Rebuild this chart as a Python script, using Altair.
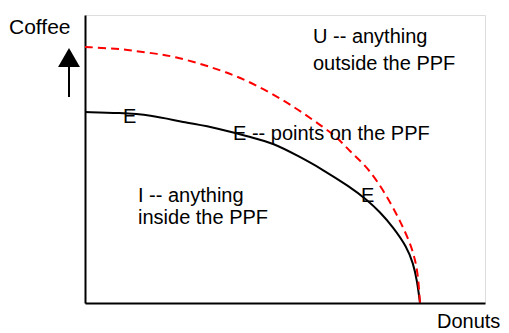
import altair as alt
import pandas as pd

# PPF curves (Donuts on x, Coffee on y), 0-100 units
ppf_x = [0, 8.75, 16.25, 24.5, 33, 41.25, 47, 53.75, 58.75, 66.25, 70.5, 73.75, 77, 80.5, 82, 83, 83.75]
ppf_y = [66.3, 66.0, 65.3, 62.8, 60.8, 57.6, 55.6, 50.7, 46.9, 40.3, 35.8, 31.6, 26.4, 19.4, 13.9, 8.0, 0]

new_x = [0, 8.25, 12.5, 18.25, 22.5, 29.25, 35, 41.75, 49.5, 54.5, 59.5, 63, 66.25, 69.5, 73, 77, 79.5, 82, 83.25, 83.75]
new_y = [88.9, 88.3, 87.5, 86.5, 85.5, 82.9, 80.3, 76.5, 70.5, 66.0, 61.1, 57.6, 52.6, 48.6, 42.7, 33.3, 26.4, 18.4, 10.4, 0]

# Labels
label_text = ["E", "E -- points on the PPF", "E", "I -- anything", "inside the PPF",
              "U -- anything", "outside the PPF", "Donuts"]
label_x = [9.5, 37, 69, 13.25, 13.25, 57, 57, 88]
label_y = [62.5, 56.6, 35.1, 35.1, 27.4, 90.3, 80.9, -8.6]

title_text = ["Coffee"]
title_x = [-19]
title_y = [93.4]

# Arrow beside the Coffee axis
arrow_x = [-4]
arrow_y0 = [71.5]
arrow_y1 = [82.0]
arrow_head_y = [85.2]

xs = alt.Scale(domain=[0, 100], nice=False, zero=False)
ys = alt.Scale(domain=[0, 100], nice=False, zero=False)

df_ppf = pd.DataFrame({"x": ppf_x, "y": ppf_y})
df_new = pd.DataFrame({"x": new_x, "y": new_y})
df_lab = pd.DataFrame({"t": label_text, "x": label_x, "y": label_y})
df_title = pd.DataFrame({"t": title_text, "x": title_x, "y": title_y})
df_arrow = pd.DataFrame({"x": arrow_x, "y0": arrow_y0, "y1": arrow_y1, "yh": arrow_head_y})

xaxis = alt.Axis(title=None, labels=False, ticks=False, grid=False, domain=True,
                 domainColor="black", domainWidth=2)
yaxis = alt.Axis(title=None, labels=False, ticks=False, grid=False, domain=True,
                 domainColor="black", domainWidth=2)

black = alt.Chart(df_ppf).mark_line(color="black", strokeWidth=2, interpolate="basis").encode(
    x=alt.X("x:Q", scale=xs, axis=xaxis),
    y=alt.Y("y:Q", scale=ys, axis=yaxis),
    order="x:Q",
)

red = alt.Chart(df_new).mark_line(color="#ff0000", strokeWidth=2, strokeDash=[8, 5],
                                  interpolate="basis").encode(
    x=alt.X("x:Q", scale=xs),
    y=alt.Y("y:Q", scale=ys),
    order="x:Q",
)

labels = alt.Chart(df_lab).mark_text(align="left", baseline="alphabetic", font="Liberation Sans",
                                     fontSize=20, color="black").encode(
    x=alt.X("x:Q", scale=xs), y=alt.Y("y:Q", scale=ys), text="t:N"
)

title = alt.Chart(df_title).mark_text(align="left", baseline="alphabetic", font="Liberation Sans",
                                      fontSize=21, color="black").encode(
    x=alt.X("x:Q", scale=xs), y=alt.Y("y:Q", scale=ys), text="t:N"
)

shaft = alt.Chart(df_arrow).mark_rule(color="black", strokeWidth=2).encode(
    x=alt.X("x:Q", scale=xs), y=alt.Y("y0:Q", scale=ys), y2="y1:Q"
)

head = alt.Chart(df_arrow).mark_point(shape="M0,-1L-1.15,1L1.15,1Z", filled=True, color="black",
                                      opacity=1, size=361, strokeWidth=0).encode(
    x=alt.X("x:Q", scale=xs), y=alt.Y("yh:Q", scale=ys)
)

chart = alt.layer(black, red, labels, title, shaft, head).properties(
    width=400, height=288,
    autosize=alt.AutoSizeParams(type="none"),
    padding={"left": 77, "top": 7, "right": 16, "bottom": 30},
).configure_view(stroke=None).configure(background="white")

chart.save("out.html", embed_options={"renderer": "svg", "actions": False})
